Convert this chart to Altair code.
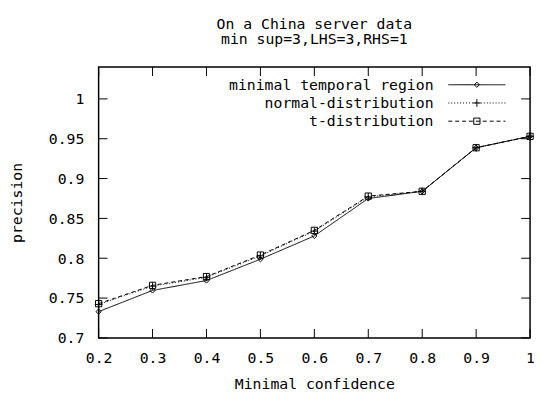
import altair as alt
import pandas as pd

# ---- data ----
conf = [0.2, 0.3, 0.4, 0.5, 0.6, 0.7, 0.8, 0.9, 1.0]
minimal_temporal_region = [0.733, 0.7596, 0.772, 0.7988, 0.828, 0.875, 0.884, 0.9387, 0.953]
normal_distribution = [0.742, 0.765, 0.776, 0.803, 0.834, 0.877, 0.884, 0.9387, 0.953]
t_distribution = [0.743, 0.766, 0.777, 0.804, 0.835, 0.878, 0.884, 0.9387, 0.953]
series_names = ["minimal temporal region", "normal-distribution", "t-distribution"]
series_values = [minimal_temporal_region, normal_distribution, t_distribution]
x_ticks = [0.2, 0.3, 0.4, 0.5, 0.6, 0.7, 0.8, 0.9, 1.0]
y_ticks = [0.7, 0.75, 0.8, 0.85, 0.9, 0.95, 1.0]
title_lines = ["On a China server data", "min sup=3,LHS=3,RHS=1"]
x_title = "Minimal confidence"
y_title = "precision"

# ---- styling ----
FONT = "DejaVu Sans Mono"
FS = 15
W, H = 438, 275
TICK = 9
PLUS = "M-1,0H1M0,-1V1"
styles = [
    dict(dash=[1, 0], shape="diamond", size=28),
    dict(dash=[1, 2], shape=PLUS, size=60),
    dict(dash=[4, 3], shape="square", size=40),
]

rows = []
for name, vals in zip(series_names, series_values):
    for c, v in zip(conf, vals):
        rows.append({"series": name, "conf": c, "precision": v})
df = pd.DataFrame(rows)
xt = pd.DataFrame({"conf": x_ticks})
yt = pd.DataFrame({"precision": y_ticks})

xs = alt.Scale(domain=[0.2, 1.0], nice=False, zero=False)
ys = alt.Scale(domain=[0.7, 1.04], nice=False, zero=False)

x_axis = alt.Axis(values=x_ticks, format=".1~f", title=x_title, grid=False, domain=False,
                  ticks=False, labelPadding=13, labelFlush=False, labelOverlap=False,
                  titleY=46, titleBaseline="middle")
y_axis = alt.Axis(values=y_ticks, format=".2~f", title=y_title, grid=False, domain=False,
                  ticks=False, labelPadding=15, labelFlush=False, labelOverlap=False,
                  titleX=-83, titleY=H / 2, titleBaseline="middle")

X = alt.X("conf:Q", scale=xs, axis=x_axis)
Y = alt.Y("precision:Q", scale=ys, axis=y_axis)

layers = []
for i, name in enumerate(series_names):
    st = styles[i]
    sub = df[df["series"] == name]
    base = alt.Chart(sub).encode(x=X, y=Y)
    layers.append(base.mark_line(color="black", strokeWidth=1, strokeDash=st["dash"]))
    layers.append(base.mark_point(shape=st["shape"], size=st["size"], filled=False,
                                  color="black", strokeWidth=1, opacity=1))

# inward ticks on all four sides (gnuplot mirror tics)
for ypos in (H - TICK / 2, TICK / 2):
    layers.append(alt.Chart(xt).mark_tick(orient="vertical", size=TICK, thickness=1, color="black",
                                          opacity=1).encode(x=X, y=alt.value(ypos)))
for xpos in (TICK / 2, W - TICK / 2):
    layers.append(alt.Chart(yt).mark_tick(orient="horizontal", size=TICK, thickness=1, color="black",
                                          opacity=1).encode(y=Y, x=alt.value(xpos)))

# ---- gnuplot-style key (top right, labels left of samples) ----
for i, name in enumerate(series_names):
    st = styles[i]
    yy = 18 + i * 18.5
    one = pd.DataFrame({"label": [name]})
    layers.append(alt.Chart(one).mark_text(align="right", baseline="middle", font=FONT,
                                           fontSize=FS, color="black").encode(
        text="label:N", x=alt.value(340), y=alt.value(yy)))
    layers.append(alt.Chart(one).mark_rule(color="black", strokeWidth=1, strokeDash=st["dash"]).encode(
        x=alt.value(355), x2=alt.value(413), y=alt.value(yy)))
    layers.append(alt.Chart(one).mark_point(shape=st["shape"], size=st["size"], filled=False,
                                            color="black", strokeWidth=1, opacity=1).encode(
        x=alt.value(384), y=alt.value(yy)))

chart = alt.layer(*layers).properties(
    width=W, height=H,
    title=alt.TitleParams(title_lines, font=FONT, fontSize=FS, fontWeight="normal", anchor="middle",
                          color="black", lineHeight=16, offset=20),
    autosize=alt.AutoSizeParams(type="none"),
    padding={"left": 92, "top": 57, "right": 4, "bottom": 52},
    background="white",
).configure_view(
    stroke="black", strokeWidth=1.5
).configure_axis(
    labelFont=FONT, labelFontSize=FS, labelColor="black", titleFont=FONT, titleFontSize=FS,
    titleFontWeight="normal", titleColor="black",
)

chart.save("out.html", embed_options={"renderer": "svg", "actions": False})
